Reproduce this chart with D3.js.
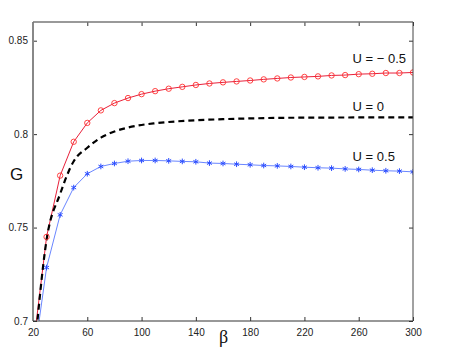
<!DOCTYPE html>
<html>
<head>
<meta charset="utf-8">
<script src="https://cdn.jsdelivr.net/npm/d3@7"></script>
<style>
  body { margin: 0; background: #fff; }
  svg { display: block; font-family: "Liberation Sans", Arial, sans-serif; }
</style>
</head>
<body>
<svg width="463" height="362"></svg>
<script>
var betaMarked = [20, 30, 40, 50, 60, 70, 80, 90, 100, 110, 120, 130, 140, 150, 160, 170, 180, 190, 200, 210, 220, 230, 240, 250, 260, 270, 280, 290, 300];
var gNeg = [0.685, 0.745, 0.7778, 0.7959, 0.806, 0.8127, 0.8166, 0.8193, 0.8214, 0.823, 0.8243, 0.8253, 0.8263, 0.8271, 0.8277, 0.8282, 0.8287, 0.8293, 0.8298, 0.8303, 0.8306, 0.8309, 0.8314, 0.8316, 0.8321, 0.8323, 0.8327, 0.8327, 0.833];
var gPos = [0.6766, 0.7286, 0.7568, 0.7714, 0.7788, 0.7827, 0.7843, 0.7855, 0.7859, 0.7859, 0.7857, 0.7854, 0.7852, 0.7845, 0.7843, 0.7839, 0.7836, 0.7832, 0.783, 0.7827, 0.7823, 0.782, 0.7818, 0.7814, 0.7811, 0.7807, 0.7804, 0.7802, 0.7798];
var betaZero = [20, 30, 40, 50, 60, 70, 80, 90, 100, 110, 120, 140, 160, 180, 200, 220, 250, 300];
var gZero = [0.674, 0.7434, 0.768, 0.7855, 0.7927, 0.7981, 0.8014, 0.8035, 0.8049, 0.8058, 0.8065, 0.8074, 0.808, 0.8084, 0.8087, 0.8088, 0.8089, 0.809];
var xTicks = [20, 60, 100, 140, 180, 220, 260, 300];
var yTicks = [0.7, 0.75, 0.8, 0.85];
var labels = [
  {text: "U = \u2212 0.5", g: 0.8379},
  {text: "U = 0", g: 0.8124},
  {text: "U = 0.5", g: 0.7856}
];

var svg = d3.select("svg");
var margin = {top: 22, right: 50, bottom: 41, left: 33};
var width = +svg.attr("width") - margin.left - margin.right;
var height = +svg.attr("height") - margin.top - margin.bottom;

var x = d3.scaleLinear().domain([20, 300]).range([0, width]);
var y = d3.scaleLinear().domain([0.7, 0.86]).range([height, 0]);

var g = svg.append("g")
  .attr("transform", "translate(" + margin.left + "," + margin.top + ")");

svg.append("defs").append("clipPath").attr("id", "clip")
  .append("rect").attr("width", width).attr("height", height);

// ticks inside the box
g.append("g").attr("transform", "translate(0," + height + ")")
  .call(d3.axisBottom(x).tickValues(xTicks).tickSize(-4).tickPadding(8).tickFormat(d3.format("d")));
g.append("g")
  .call(d3.axisTop(x).tickValues(xTicks).tickSize(-4).tickFormat(""));
g.append("g")
  .call(d3.axisLeft(y).tickValues(yTicks).tickSize(-4).tickPadding(5).tickFormat(function(d) { return d === 0.7 ? "0.7" : d === 0.8 ? "0.8" : d3.format(".2f")(d); }));
g.append("g").attr("transform", "translate(" + width + ",0)")
  .call(d3.axisRight(y).tickValues(yTicks).tickSize(-4).tickFormat(""));

g.selectAll(".domain").remove();
g.selectAll(".tick line").attr("stroke", "#333");
g.selectAll(".tick text").attr("font-size", 10).attr("fill", "#222")
  .attr("font-family", "Liberation Sans, Arial, sans-serif");

var plot = g.append("g").attr("clip-path", "url(#clip)");

var lineNeg = d3.line().x(function(d, i) { return x(betaMarked[i]); }).y(function(d) { return y(d); });
plot.append("path").datum(gNeg).attr("d", lineNeg)
  .attr("fill", "none").attr("stroke", "#e8203a").attr("stroke-width", 1);
plot.append("path").datum(gPos).attr("d", lineNeg)
  .attr("fill", "none").attr("stroke", "#6a86ff").attr("stroke-width", 1);

var lineZero = d3.line().curve(d3.curveMonotoneX)
  .x(function(d, i) { return x(betaZero[i]); }).y(function(d) { return y(d); });
plot.append("path").datum(gZero).attr("d", lineZero)
  .attr("fill", "none").attr("stroke", "#000").attr("stroke-width", 2.2)
  .attr("stroke-dasharray", "6,4");

plot.selectAll(".circ").data(gNeg).enter().append("circle")
  .attr("class", "circ")
  .attr("cx", function(d, i) { return x(betaMarked[i]); })
  .attr("cy", function(d) { return y(d); })
  .attr("r", 2.7)
  .attr("fill", "none").attr("stroke", "#ff3030").attr("stroke-width", 0.9);

var star = d3.symbol().type(d3.symbolAsterisk).size(22);
plot.selectAll(".star").data(gPos).enter().append("path")
  .attr("class", "star")
  .attr("transform", function(d, i) { return "translate(" + x(betaMarked[i]) + "," + y(d) + ")"; })
  .attr("d", star)
  .attr("fill", "none").attr("stroke", "#2a4cff").attr("stroke-width", 1);

// box
g.append("line").attr("x1", 0).attr("x2", 0).attr("y1", 0).attr("y2", height)
  .attr("stroke", "#888").attr("stroke-width", 2);
g.append("line").attr("x1", 0).attr("x2", width).attr("y1", 0).attr("y2", 0)
  .attr("stroke", "#777").attr("stroke-width", 1.3);
g.append("line").attr("x1", 0).attr("x2", width).attr("y1", height).attr("y2", height)
  .attr("stroke", "#333").attr("stroke-width", 1.2);
g.append("line").attr("x1", width).attr("x2", width).attr("y1", 0).attr("y2", height)
  .attr("stroke", "#444").attr("stroke-width", 1);

g.selectAll(".ulabel").data(labels).enter().append("text")
  .attr("class", "ulabel")
  .attr("x", x(255.5))
  .attr("y", function(d) { return y(d.g); })
  .attr("font-size", 13).attr("fill", "#111")
  .text(function(d) { return d.text; });

svg.append("text").attr("x", 10).attr("y", 180)
  .attr("font-size", 17).attr("fill", "#111").text("G");
svg.append("text").attr("x", 219).attr("y", 343)
  .attr("font-size", 18).attr("fill", "#111")
  .attr("font-family", "Liberation Serif, serif").text("\u03b2");
</script>
</body>
</html>
